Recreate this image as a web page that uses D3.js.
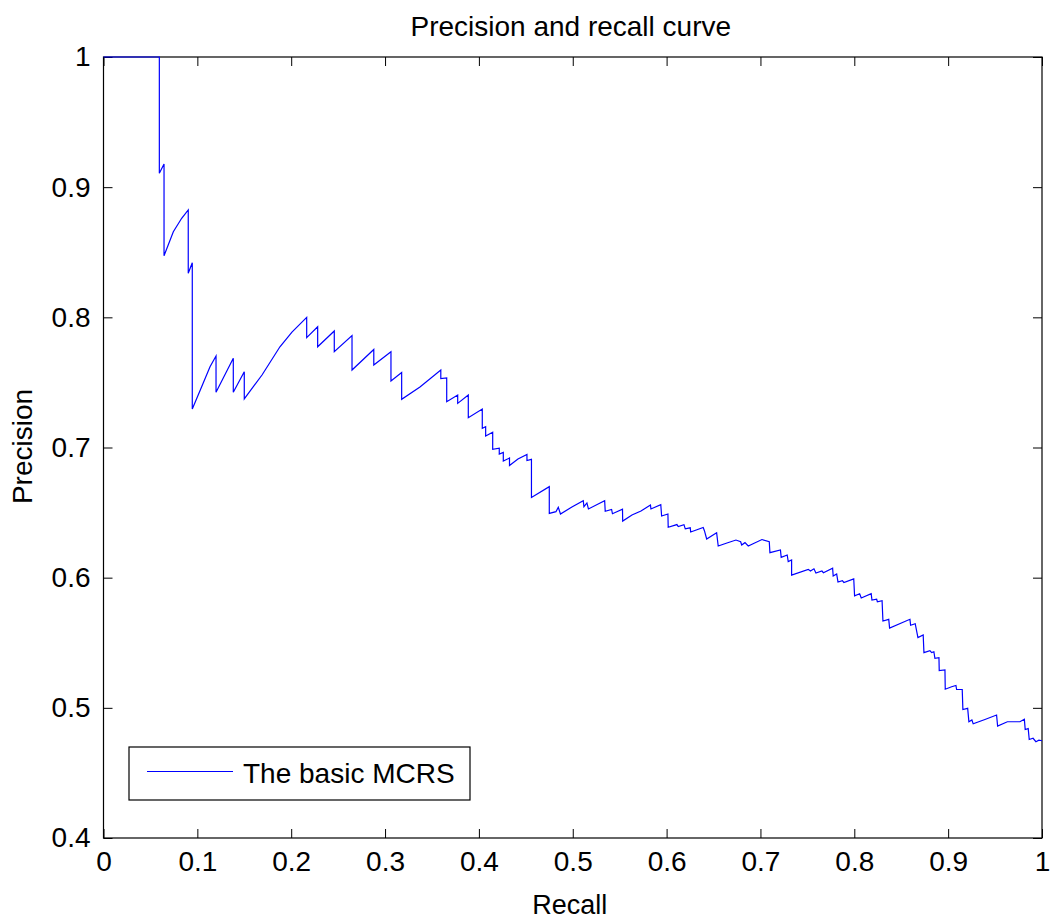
<!DOCTYPE html>
<html>
<head>
<meta charset="utf-8">
<script src="https://cdn.jsdelivr.net/npm/d3@7"></script>
<style>
  body { margin: 0; background: #fff; }
  svg text { font-family: "Liberation Sans", Arial, sans-serif; fill: #000; }
</style>
</head>
<body>
<svg width="1054" height="921"></svg>
<script>
// recall / precision pairs
const recall = [
  0, 0.0595, 0.0595, 0.0645, 0.0645, 0.0744, 0.0833, 0.0903, 0.0903, 0.0946,
  0.0946, 0.1046, 0.1135, 0.1199, 0.1199, 0.1383, 0.1383, 0.1500, 0.1500, 0.1689,
  0.1880, 0.2008, 0.2165, 0.2165, 0.2282, 0.2282, 0.2459, 0.2459, 0.2648, 0.2648,
  0.2880, 0.2880, 0.3063, 0.3063, 0.3177, 0.3177, 0.3372, 0.3594, 0.3594, 0.3657,
  0.3657, 0.3774, 0.3774, 0.3887, 0.3887, 0.4036, 0.4036, 0.4072, 0.4072, 0.4147,
  0.4147, 0.4217, 0.4217, 0.4260, 0.4260, 0.4326, 0.4326, 0.4416, 0.4512, 0.4512,
  0.4560, 0.4560, 0.4750, 0.4750, 0.4821, 0.4846, 0.4869, 0.4991, 0.5112, 0.5119,
  0.5151, 0.5167, 0.5340, 0.5346, 0.5414, 0.5423, 0.5530, 0.5532, 0.5631, 0.5727,
  0.5828, 0.5833, 0.5938, 0.5947, 0.6014, 0.6017, 0.6110, 0.6124, 0.6185, 0.6199,
  0.6252, 0.6257, 0.6390, 0.6403, 0.6427, 0.6533, 0.6550, 0.6643, 0.6739, 0.6789,
  0.6800, 0.6835, 0.6870, 0.7016, 0.7094, 0.7101, 0.7213, 0.7221, 0.7285, 0.7296,
  0.7332, 0.7332, 0.7509, 0.7533, 0.7570, 0.7591, 0.7655, 0.7671, 0.7769, 0.7775,
  0.7812, 0.7826, 0.7873, 0.7889, 0.7994, 0.8003, 0.8057, 0.8074, 0.8180, 0.8188,
  0.8238, 0.8246, 0.8296, 0.8305, 0.8367, 0.8376, 0.8593, 0.8600, 0.8649, 0.8678,
  0.8734, 0.8742, 0.8806, 0.8824, 0.8848, 0.8859, 0.8902, 0.8905, 0.8966, 0.8969,
  0.9037, 0.9083, 0.9090, 0.9150, 0.9157, 0.9208, 0.9221, 0.9253, 0.9267, 0.9392,
  0.9516, 0.9527, 0.9631, 0.9765, 0.9812, 0.9821, 0.9853, 0.9864, 0.9905, 0.9935,
  0.9967, 1.0
];
const precision = [
  1, 1, 0.9107, 0.9178, 0.8473, 0.8658, 0.8761, 0.8825, 0.8338, 0.8420,
  0.7296, 0.7467, 0.7621, 0.7703, 0.7424, 0.7685, 0.7424, 0.7582, 0.7373, 0.7557,
  0.7774, 0.7887, 0.8000, 0.7844, 0.7928, 0.7774, 0.7895, 0.7736, 0.7860, 0.7595,
  0.7753, 0.7634, 0.7736, 0.7511, 0.7576, 0.7370, 0.7465, 0.7595, 0.7530, 0.7534,
  0.7352, 0.7403, 0.7339, 0.7403, 0.7229, 0.7296, 0.7147, 0.7160, 0.7088, 0.7117,
  0.6986, 0.6994, 0.6950, 0.6962, 0.6896, 0.6919, 0.6862, 0.6912, 0.6946, 0.6900,
  0.6909, 0.6616, 0.6699, 0.6494, 0.6507, 0.6541, 0.6489, 0.6543, 0.6591, 0.6545,
  0.6574, 0.6528, 0.6591, 0.6510, 0.6524, 0.6491, 0.6526, 0.6435, 0.6481, 0.6512,
  0.6558, 0.6528, 0.6561, 0.6474, 0.6489, 0.6387, 0.6408, 0.6393, 0.6407, 0.6375,
  0.6383, 0.6351, 0.6385, 0.6361, 0.6297, 0.6345, 0.6243, 0.6266, 0.6289, 0.6276,
  0.6251, 0.6269, 0.6243, 0.6293, 0.6276, 0.6192, 0.6213, 0.6156, 0.6174, 0.6123,
  0.6136, 0.6020, 0.6064, 0.6051, 0.6068, 0.6036, 0.6051, 0.6038, 0.6072, 0.6013,
  0.6028, 0.5967, 0.5977, 0.5963, 0.5991, 0.5861, 0.5877, 0.5844, 0.5877, 0.5828,
  0.5834, 0.5815, 0.5823, 0.5667, 0.5680, 0.5613, 0.5680, 0.5634, 0.5646, 0.5540,
  0.5560, 0.5424, 0.5439, 0.5424, 0.5431, 0.5380, 0.5385, 0.5287, 0.5291, 0.5143,
  0.5162, 0.5172, 0.5141, 0.5141, 0.4987, 0.4996, 0.4893, 0.4907, 0.4877, 0.4910,
  0.4945, 0.4860, 0.4893, 0.4893, 0.4912, 0.4833, 0.4840, 0.4757, 0.4766, 0.4740,
  0.4751, 0.4747
];
const xTicks = [0, 0.1, 0.2, 0.3, 0.4, 0.5, 0.6, 0.7, 0.8, 0.9, 1];
const yTicks = [0.4, 0.5, 0.6, 0.7, 0.8, 0.9, 1];
const seriesName = "The basic MCRS";

let margin = {top: 57, left: 103.5},
    width = 938.5,
    height = 781;

let svg = d3.select("svg");
let g = svg.append("g").attr("transform", `translate(${margin.left},${margin.top})`);

let x = d3.scaleLinear().domain([0, 1]).range([0, width]);
let y = d3.scaleLinear().domain([0.4, 1]).range([height, 0]);

let fmt = d => d === 0 || d === 1 ? String(d) : d.toFixed(1);

// axes, ticks pointing into the box like matlab
g.append("g")
  .attr("transform", `translate(0,${height})`)
  .call(d3.axisBottom(x).tickValues(xTicks).tickSize(-9).tickPadding(13).tickFormat(fmt))
  .call(a => a.select(".domain").remove());
g.append("g")
  .call(d3.axisTop(x).tickValues(xTicks).tickSize(-9).tickFormat(""))
  .call(a => a.select(".domain").remove());
g.append("g")
  .call(d3.axisLeft(y).tickValues(yTicks).tickSize(-9).tickPadding(13).tickFormat(fmt))
  .call(a => a.select(".domain").remove());
g.append("g")
  .attr("transform", `translate(${width},0)`)
  .call(d3.axisRight(y).tickValues(yTicks).tickSize(-9).tickFormat(""))
  .call(a => a.select(".domain").remove());

g.selectAll(".tick text").attr("font-size", 28).style("font-family", "Liberation Sans, Arial, sans-serif");
g.selectAll(".tick line").attr("stroke", "#000");

g.append("rect")
  .attr("width", width).attr("height", height)
  .attr("fill", "none").attr("stroke", "#000").attr("stroke-width", 1.2);

let pts = recall.map((r, i) => [r, precision[i]]);
g.append("path")
  .datum(pts)
  .attr("d", d3.line().x(d => x(d[0])).y(d => y(d[1])))
  .attr("fill", "none")
  .attr("stroke", "#0000ff")
  .attr("stroke-width", 1.2);

// legend
let leg = svg.append("g").attr("transform", "translate(129,747)");
leg.append("rect").attr("width", 341).attr("height", 53)
  .attr("fill", "#fff").attr("stroke", "#000").attr("stroke-width", 1.2);
leg.append("line").attr("x1", 18).attr("x2", 104).attr("y1", 24.5).attr("y2", 24.5)
  .attr("stroke", "#0000ff").attr("stroke-width", 1.2);
leg.append("text").attr("x", 114).attr("y", 36).attr("font-size", 28).text(seriesName);

// titles
svg.append("text").attr("x", margin.left + width / 2 - 2).attr("y", 36)
  .attr("text-anchor", "middle").attr("font-size", 28).text("Precision and recall curve");
svg.append("text").attr("x", margin.left + width / 2 - 3).attr("y", 914)
  .attr("text-anchor", "middle").attr("font-size", 27).text("Recall");
svg.append("text").attr("transform", `translate(32,${margin.top + height / 2 - 1}) rotate(-90)`)
  .attr("text-anchor", "middle").attr("font-size", 28).text("Precision");
</script>
</body>
</html>
